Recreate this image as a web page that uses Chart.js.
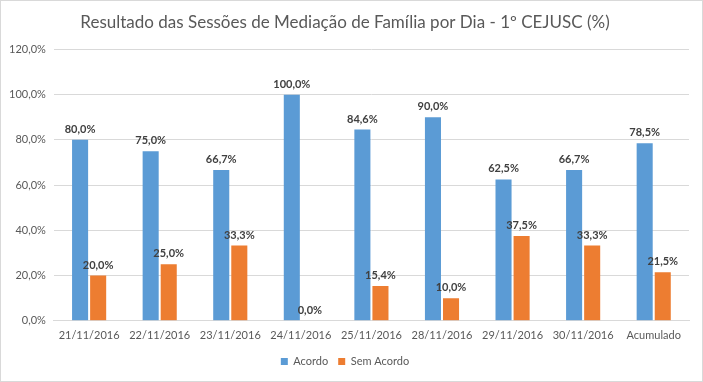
<!DOCTYPE html>
<html>
<head>
<meta charset="utf-8">
<script src="https://cdn.jsdelivr.net/npm/chart.js@4"></script>
<style>
html,body{margin:0;padding:0;background:#fff;}
#wrap{position:relative;width:701px;height:380px;border:1px solid #d9d9d9;}
</style>
</head>
<body>
<div id="wrap"><canvas id="c"></canvas></div>
<script>
const categories = ["21/11/2016","22/11/2016","23/11/2016","24/11/2016","25/11/2016","28/11/2016","29/11/2016","30/11/2016","Acumulado"];
const acordo = [80.0, 75.0, 66.7, 100.0, 84.6, 90.0, 62.5, 66.7, 78.5];
const semAcordo = [20.0, 25.0, 33.3, 0.0, 15.4, 10.0, 37.5, 33.3, 21.5];
const seriesNames = ["Acordo", "Sem Acordo"];
const titleText = "Resultado das Sessões de Mediação de Família por Dia - 1º CEJUSC (%)";

const FONT = "Lato, 'Open Sans', sans-serif";
const fmt = v => v.toFixed(1).replace('.', ',') + '%';

const labelPlugin = {
  id: 'barLabels',
  afterDatasetsDraw(chart) {
    const ctx = chart.ctx;
    ctx.save();
    ctx.font = "bold 11px " + FONT;
    ctx.fillStyle = '#404040';
    ctx.textAlign = 'center';
    ctx.textBaseline = 'bottom';
    chart.data.datasets.forEach((ds, i) => {
      chart.getDatasetMeta(i).data.forEach((bar, j) => {
        ctx.fillText(fmt(ds.data[j]), bar.x, bar.y - 5);
      });
    });
    ctx.restore();
  }
};

new Chart(document.getElementById('c'), {
  type: 'bar',
  data: {
    labels: categories,
    datasets: [
      { label: seriesNames[0], data: acordo, backgroundColor: '#5B9BD5', barPercentage: 0.889, categoryPercentage: 0.512 },
      { label: seriesNames[1], data: semAcordo, backgroundColor: '#ED7D31', barPercentage: 0.889, categoryPercentage: 0.512 }
    ]
  },
  options: {
    responsive: true,
    maintainAspectRatio: false,
    animation: false,
    layout: { padding: { left: 0, right: 13, top: 0, bottom: 4 } },
    plugins: {
      title: { display: true, text: titleText, color: '#595959', font: { family: FONT, size: 17, weight: 'normal' }, padding: { top: 11, bottom: 17 } },
      legend: { position: 'bottom', labels: { color: '#595959', font: { family: FONT, size: 11 }, boxWidth: 7, boxHeight: 7, padding: 10 } },
      tooltip: { enabled: false }
    },
    scales: {
      x: {
        grid: { display: false },
        border: { color: '#d9d9d9' },
        ticks: { color: '#595959', font: { family: FONT, size: 11 }, maxRotation: 0, padding: 0 },
        afterFit: s => { s.height += 4; }
      },
      y: {
        min: 0, max: 120,
        grid: { color: '#d9d9d9', drawTicks: false },
        border: { display: false },
        ticks: { stepSize: 20, color: '#595959', font: { family: FONT, size: 11 }, padding: 8, callback: v => fmt(v) }
      }
    }
  },
  plugins: [labelPlugin]
});
</script>
</body>
</html>
